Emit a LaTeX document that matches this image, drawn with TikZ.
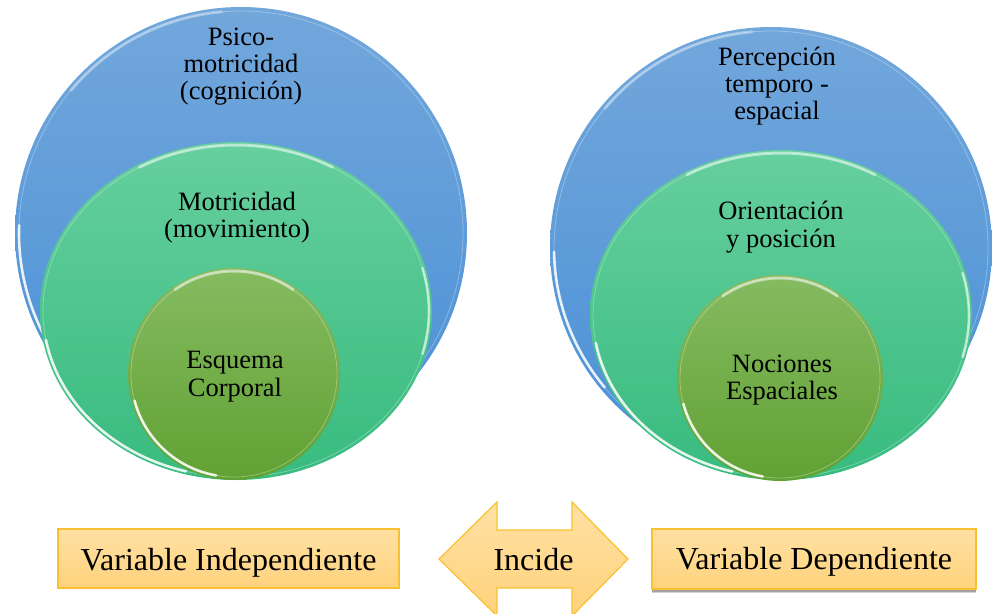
\documentclass[tikz,border=0pt]{standalone}
\usepackage{fontspec}
\setmainfont{Liberation Serif}
\usetikzlibrary{shapes.geometric,shadows}
\definecolor{blueT}{HTML}{72A7DB}
\definecolor{blueB}{HTML}{4A90D7}
\definecolor{greenT}{HTML}{66CF9E}
\definecolor{greenB}{HTML}{38BB7F}
\definecolor{oliveT}{HTML}{86BB61}
\definecolor{oliveB}{HTML}{61A133}
\definecolor{boxT}{HTML}{FFE1A3}
\definecolor{boxB}{HTML}{FFD27C}
\definecolor{boxE}{HTML}{F9C132}
\begin{document}
\begin{tikzpicture}[x=1pt,y=-1pt,
  disc/.style={ellipse, inner sep=0pt, draw=none},
  bluedisc/.style={disc, top color=blueT, bottom color=blueB},
  greendisc/.style={disc, top color=greenT, bottom color=greenB},
  olivedisc/.style={disc, top color=oliveT, bottom color=oliveB},
  hl/.style={white, opacity=0.85, line width=2.6pt, line cap=round},
  soft/.style={white, opacity=0.35, line width=3pt, line cap=round},
  rim/.style={white, opacity=0.3, line width=0.8pt},
  lbl/.style={anchor=base, font=\fontsize{26.5}{27}\selectfont, inner sep=0pt},
  varbox/.style={draw=boxE, line width=1.2pt, top color=boxT, bottom color=boxB,
     inner sep=0pt, font=\fontsize{32}{34}\selectfont},
  arrowshape/.style={draw=boxE, line width=1.2pt, top color=boxT, bottom color=boxB, line join=miter}
]
\useasboundingbox (0,0) rectangle (992,613);

% ---------- left group ----------
\node[bluedisc, minimum width=452pt, minimum height=452pt] (lb) at (241,233) {};
\draw[rim] (lb.center) circle[radius=222pt];
\draw[hl] ([shift={(178:222pt)}]lb.center) arc[start angle=178, end angle=214, radius=222pt];
\draw[soft] ([shift={(95:222pt)}]lb.center) arc[start angle=95, end angle=140, radius=222pt];

\node[greendisc, minimum width=392pt, minimum height=338pt] (lg) at (236,311) {};
\draw[rim] (lg.center) ellipse[x radius=193pt, y radius=166pt];
\draw[hl] ([shift={(190:193pt and 166pt)}]lg.center) arc[start angle=190, end angle=255, x radius=193pt, y radius=166pt];
\draw[soft, opacity=0.5] ([shift={(60:193pt and 166pt)}]lg.center) arc[start angle=60, end angle=120, x radius=193pt, y radius=166pt];
\draw[hl, opacity=0.6] ([shift={(-15:193pt and 166pt)}]lg.center) arc[start angle=-15, end angle=15, x radius=193pt, y radius=166pt];

\node[olivedisc, minimum width=212pt, minimum height=212pt] (lo) at (234,374) {};
\draw[rim] (lo.center) circle[radius=103pt];
\draw[hl] ([shift={(195:103pt)}]lo.center) arc[start angle=195, end angle=260, radius=103pt];
\draw[soft, opacity=0.5] ([shift={(55:103pt)}]lo.center) arc[start angle=55, end angle=125, radius=103pt];

\node[lbl] (t1a) at (241,45) {Psico-};
\node[lbl] (t1b) at (241,72) {motricidad};
\node[lbl] (t1c) at (241,99) {(cognición)};
\node[lbl] (t2a) at (237,210) {Motricidad};
\node[lbl] (t2b) at (237,237) {(movimiento)};
\node[lbl] (t3a) at (235,368) {Esquema};
\node[lbl] (t3b) at (235,396) {Corporal};

% ---------- right group ----------
\node[bluedisc, minimum width=442pt, minimum height=442pt] (rb) at (771,248) {};
\draw[rim] (rb.center) circle[radius=217pt];
\draw[hl] ([shift={(181:217pt)}]rb.center) arc[start angle=181, end angle=220, radius=217pt];
\draw[soft] ([shift={(95:217pt)}]rb.center) arc[start angle=95, end angle=140, radius=217pt];

\node[greendisc, minimum width=382pt, minimum height=330pt] (rg) at (781,315) {};
\draw[rim] (rg.center) ellipse[x radius=188pt, y radius=162pt];
\draw[hl] ([shift={(190:188pt and 162pt)}]rg.center) arc[start angle=190, end angle=255, x radius=188pt, y radius=162pt];
\draw[soft, opacity=0.5] ([shift={(60:188pt and 162pt)}]rg.center) arc[start angle=60, end angle=120, x radius=188pt, y radius=162pt];
\draw[hl, opacity=0.6] ([shift={(-15:188pt and 162pt)}]rg.center) arc[start angle=-15, end angle=15, x radius=188pt, y radius=162pt];

\node[olivedisc, minimum width=206pt, minimum height=206pt] (ro) at (780,378) {};
\draw[rim] (ro.center) circle[radius=100pt];
\draw[hl] ([shift={(195:100pt)}]ro.center) arc[start angle=195, end angle=260, radius=100pt];
\draw[soft, opacity=0.5] ([shift={(55:100pt)}]ro.center) arc[start angle=55, end angle=125, radius=100pt];

\node[lbl] (u1a) at (777,65) {Percepción};
\node[lbl] (u1b) at (777,92) {temporo -};
\node[lbl] (u1c) at (777,119) {espacial};
\node[lbl] (u2a) at (781,219) {Orientación};
\node[lbl] (u2b) at (781,247) {y posición};
\node[lbl] (u3a) at (782,372) {Nociones};
\node[lbl] (u3b) at (782,399) {Espaciales};

% ---------- bottom row ----------
\node[varbox, minimum width=341pt, minimum height=59pt, text height=27pt, text depth=4pt]
  (vi) at (228.5,558.5) {Variable Independiente};
\node[varbox, minimum width=324pt, minimum height=60pt, text height=25pt, text depth=5pt,
  general shadow={shadow yshift=-4pt, opacity=0.18, fill=black},
  general shadow={shadow yshift=-2.5pt, opacity=0.22, fill=black}]
  (vd) at (814,559) {Variable Dependiente};

\coordinate (aL) at (439,559);
\coordinate (aR) at (628,559);
\draw[arrowshape] (aL) -- (497,502) -- (497,530) -- (572,530) -- (572,502) -- (aR)
  -- (572,616) -- (572,588) -- (497,588) -- (497,616) -- cycle;
\node[anchor=base, font=\fontsize{32}{34}\selectfont, inner sep=0pt] (inc) at (533.5,570) {Incide};
\end{tikzpicture}
\end{document}
